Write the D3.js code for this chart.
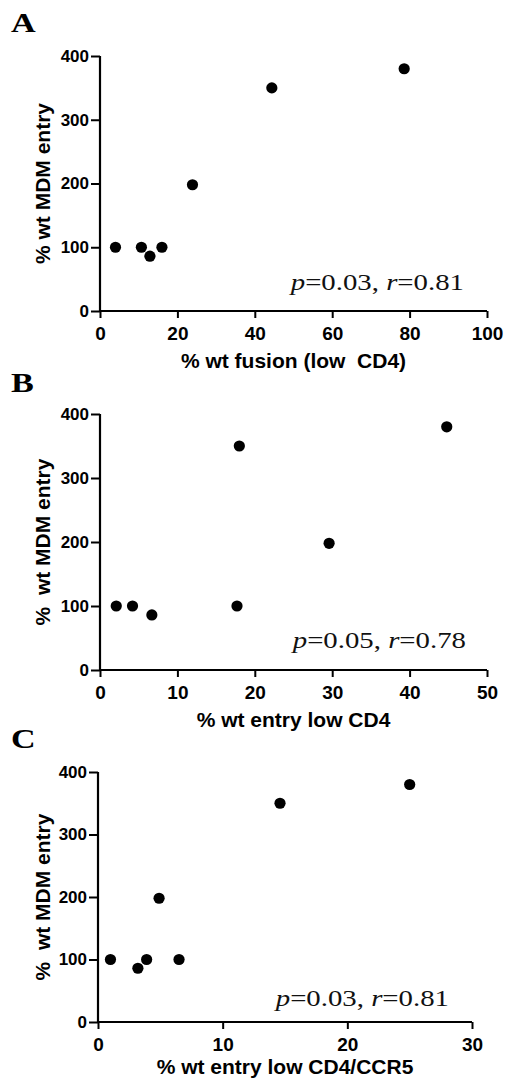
<!DOCTYPE html>
<html>
<head>
<meta charset="utf-8">
<script src="https://cdn.jsdelivr.net/npm/d3@7/dist/d3.min.js"></script>
<style>
  html, body { margin: 0; padding: 0; background: #fff; }
  svg { display: block; }
  .tick text { font-family: "Liberation Sans", Arial, sans-serif; font-weight: bold; fill: #000; }
  .axis-title { font-family: "Liberation Sans", Arial, sans-serif; font-weight: bold; font-size: 21px; fill: #000; }
  .panel-letter { font-family: "Liberation Serif", "Times New Roman", serif; font-weight: bold; font-size: 28px; fill: #000; }
  .stat { font-family: "Liberation Serif", "Times New Roman", serif; font-size: 24px; fill: #111; }
</style>
</head>
<body>
<svg id="chart" width="507" height="1082"></svg>
<script>
// Panel labels and axis titles
const panelLetters = ["A", "B", "C"];
const xTitles = ["% wt fusion (low  CD4)", "% wt entry low CD4", "% wt entry low CD4/CCR5"];
const yTitles = ["% wt MDM entry", "%  wt MDM entry", "%  wt MDM entry"];

// Correlation statistics shown in each panel
const pValues = ["0.03", "0.05", "0.03"];
const rValues = ["0.81", "0.78", "0.81"];

// X-axis domains and tick values
const xMax = [100, 50, 30];
const xTicksA = [0, 20, 40, 60, 80, 100];
const xTicksB = [0, 10, 20, 30, 40, 50];
const xTicksC = [0, 10, 20, 30];
const yTicks = [0, 100, 200, 300, 400];

// % wt MDM entry for each envelope (y), against the panel's x measure
const fusionLowCD4 = [4.0, 10.7, 12.9, 16.0, 23.9, 44.4, 78.6];
const mdmEntryA    = [100, 100, 86, 100, 198, 350, 380];

const entryLowCD4  = [2.1, 4.2, 6.7, 17.7, 18.0, 29.6, 44.8];
const mdmEntryB    = [100, 100, 86, 100, 350, 198, 380];

const entryLowCD4CCR5 = [1.0, 3.2, 3.9, 4.9, 6.5, 14.6, 25.0];
const mdmEntryC       = [100, 86, 100, 198, 100, 350, 380];

// Plot frames for the three stacked panels
const frames = [
  { left: 100, right: 487, top: 56,  bottom: 311, titleGap: 57, letterY: 32,  statX: 464, statY: 290 },
  { left: 100, right: 487, top: 414, bottom: 670, titleGap: 57, letterY: 392, statX: 466, statY: 648 },
  { left: 98,  right: 472, top: 772, bottom: 1022, titleGap: 52, letterY: 748, statX: 449, statY: 1006 }
];

const panels = [
  { xs: fusionLowCD4, ys: mdmEntryA, xTicks: xTicksA },
  { xs: entryLowCD4, ys: mdmEntryB, xTicks: xTicksB },
  { xs: entryLowCD4CCR5, ys: mdmEntryC, xTicks: xTicksC }
];

const svg = d3.select("#chart");

panels.forEach((p, i) => {
  const f = frames[i];
  const x = d3.scaleLinear().domain([0, xMax[i]]).range([f.left, f.right]);
  const y = d3.scaleLinear().domain([0, 400]).range([f.bottom, f.top]);
  const g = svg.append("g");

  // Panel letter
  g.append("text")
    .attr("class", "panel-letter")
    .attr("transform", `translate(11,${f.letterY}) scale(1.22,1)`)
    .text(panelLetters[i]);

  // Y axis
  const yAxis = g.append("g")
    .attr("transform", `translate(${f.left},0)`)
    .call(d3.axisLeft(y).tickValues(yTicks).tickSize(9).tickPadding(2).tickFormat(d3.format("d")));
  yAxis.selectAll("text").style("font-size", "17px");

  // X axis
  const xAxis = g.append("g")
    .attr("transform", `translate(0,${f.bottom})`)
    .call(d3.axisBottom(x).tickValues(p.xTicks).tickSize(7).tickPadding(2).tickFormat(d3.format("d")));
  xAxis.selectAll("text").style("font-size", "19px").attr("dy", "1.05em");

  [yAxis, xAxis].forEach(ax => {
    ax.select(".domain").attr("stroke", "#000").attr("stroke-width", 2.2);
    ax.selectAll(".tick line").attr("stroke", "#000").attr("stroke-width", 2);
  });
  // Axes end at the last tick, without outer caps
  yAxis.select(".domain").attr("d", `M0,${y(400)}V${y(0)}`);
  xAxis.select(".domain").attr("d", `M${x(0)},0H${x(xMax[i])}`);

  // Axis titles
  g.append("text")
    .attr("class", "axis-title")
    .attr("text-anchor", "middle")
    .attr("x", (f.left + f.right) / 2)
    .attr("y", f.bottom + f.titleGap)
    .style("white-space", "pre")
    .text(xTitles[i]);

  g.append("text")
    .attr("class", "axis-title")
    .attr("text-anchor", "middle")
    .attr("transform", `translate(50,${(f.top + f.bottom) / 2}) rotate(-90)`)
    .style("white-space", "pre")
    .text(yTitles[i]);

  // Data points
  g.selectAll("circle")
    .data(p.xs.map((v, k) => [v, p.ys[k]]))
    .join("circle")
    .attr("cx", d => x(d[0]))
    .attr("cy", d => y(d[1]))
    .attr("r", 5.6)
    .attr("fill", "#000");

  // Correlation statistics
  const stat = g.append("text")
    .attr("class", "stat")
    .attr("text-anchor", "end")
    .attr("transform", `translate(${f.statX},${f.statY}) scale(1.2,1)`);
  stat.append("tspan").style("font-style", "italic").text("p");
  stat.append("tspan").text(`=${pValues[i]}, `);
  stat.append("tspan").style("font-style", "italic").text("r");
  stat.append("tspan").text(`=${rValues[i]}`);
});
</script>
</body>
</html>
